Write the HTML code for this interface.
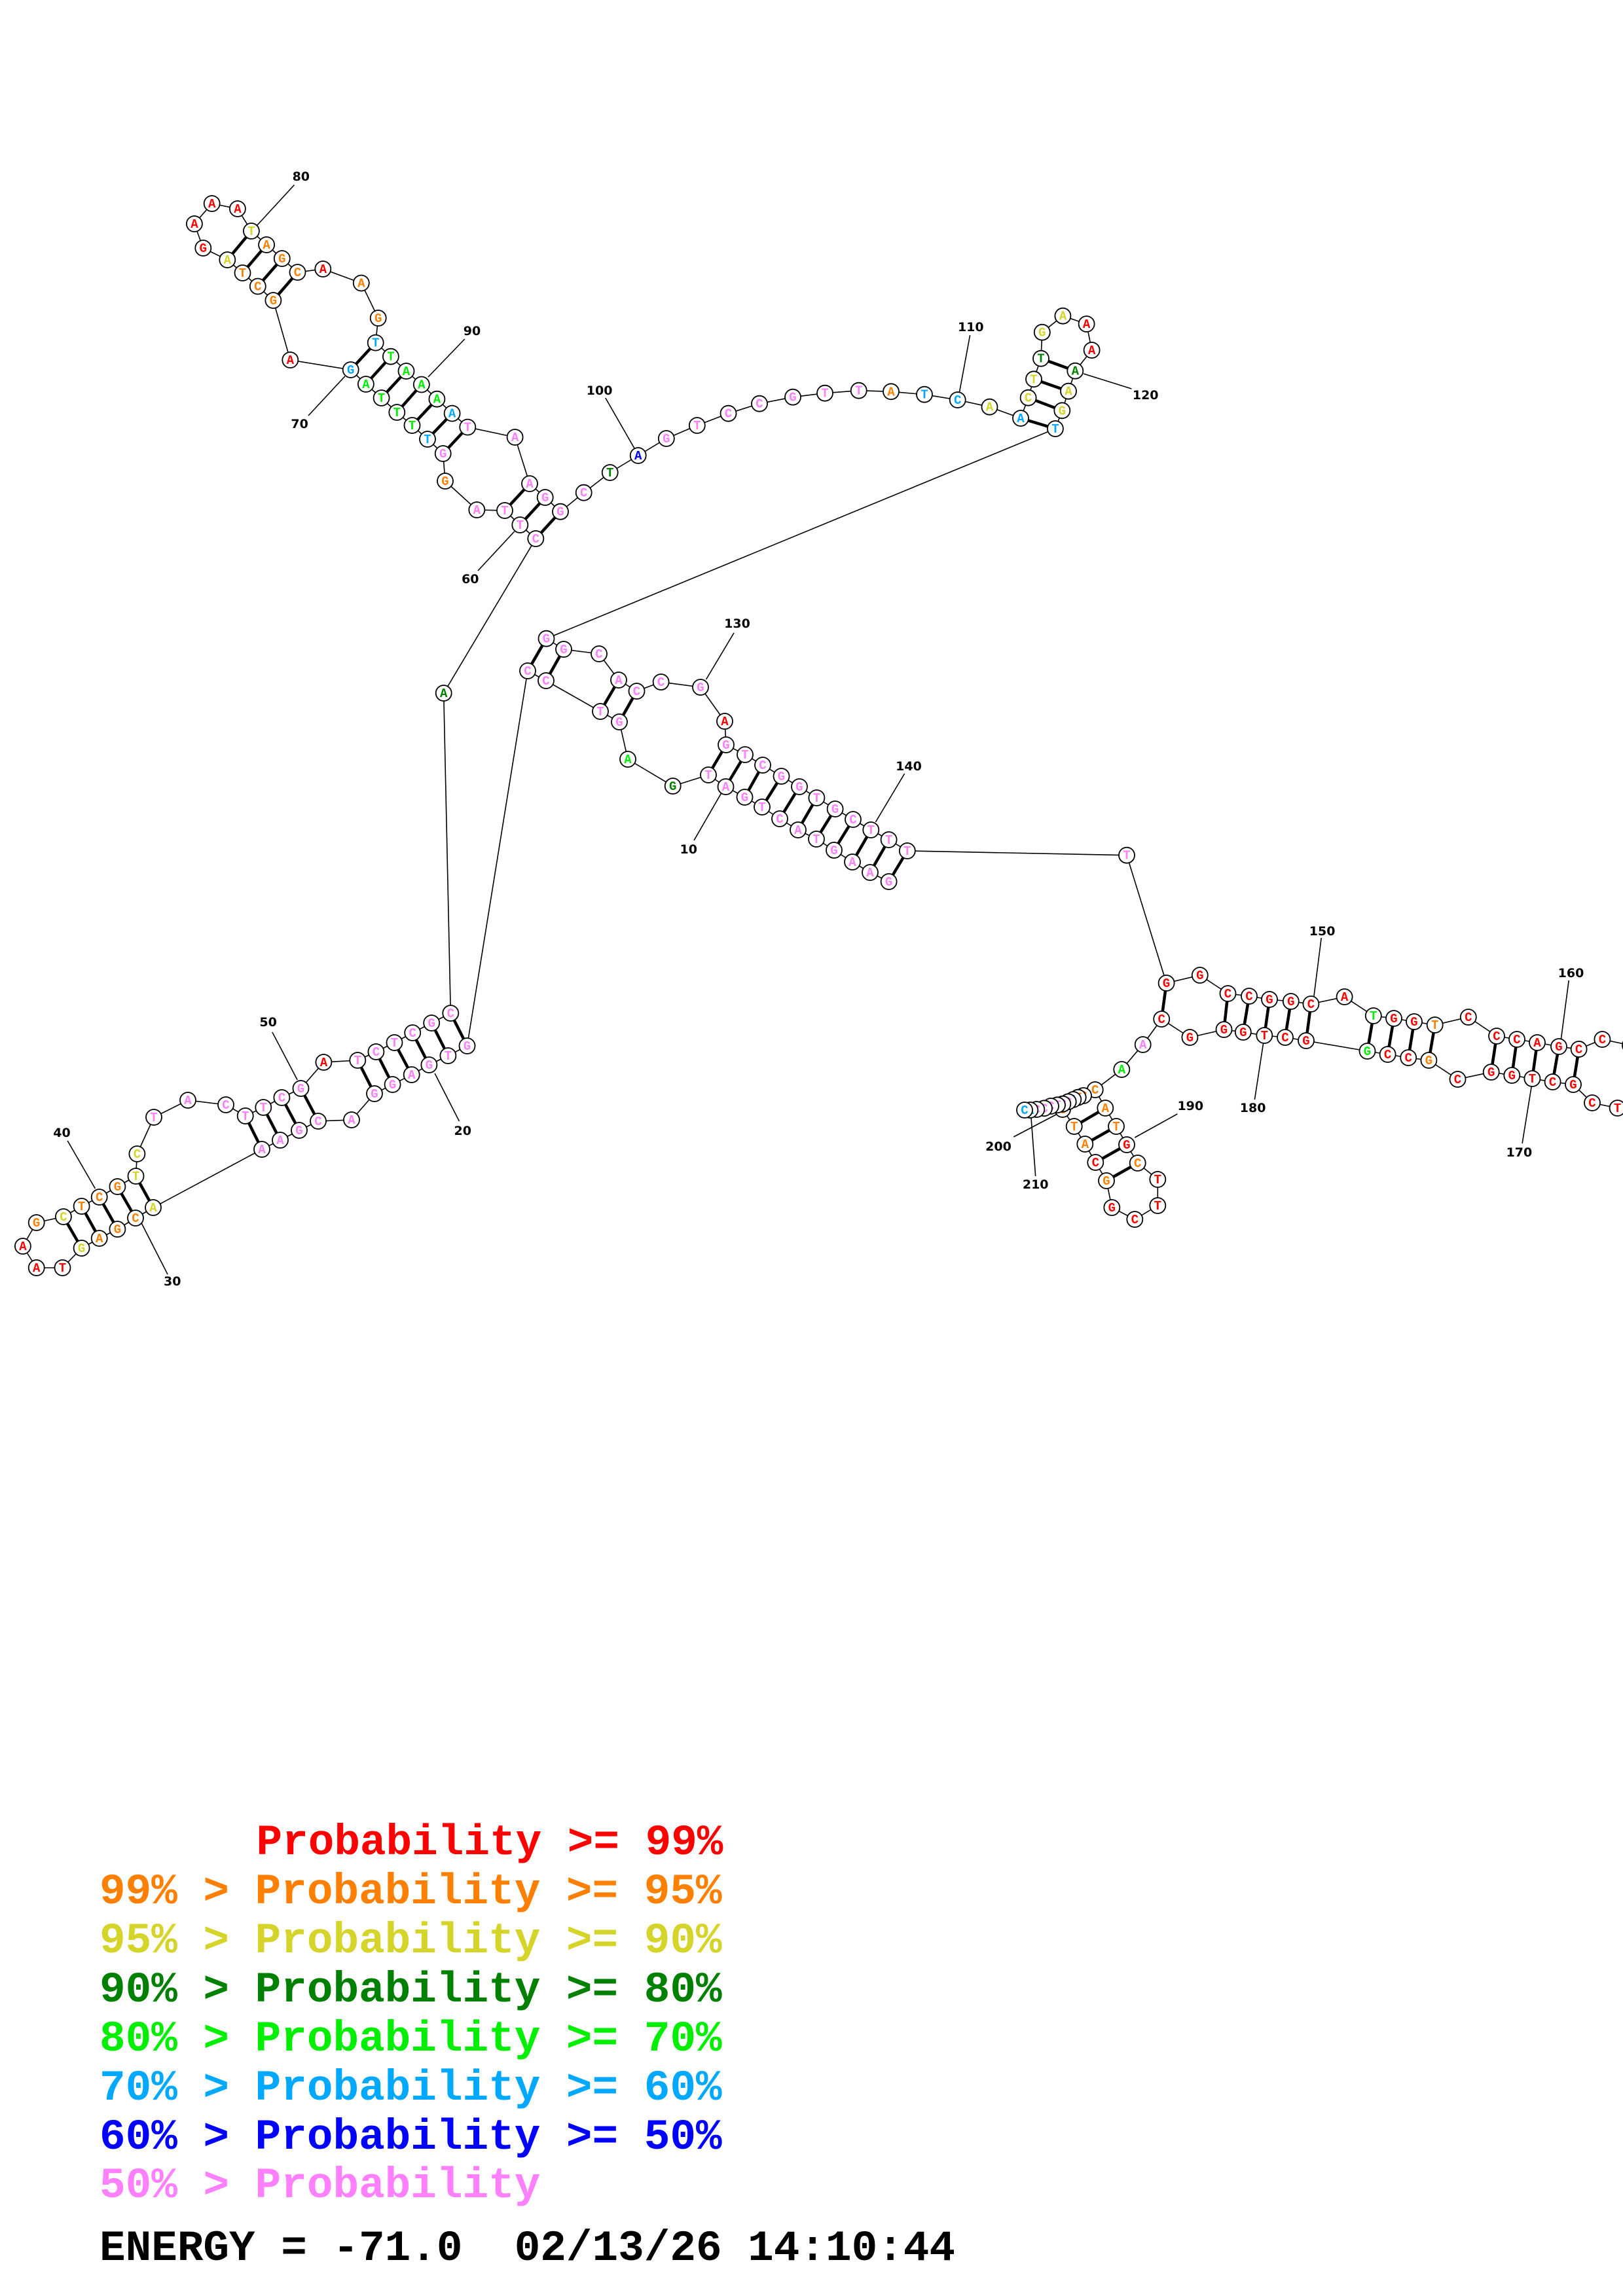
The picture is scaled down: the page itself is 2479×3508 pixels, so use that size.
<!DOCTYPE html>
<html><head><meta charset="utf-8"><style>
html,body{margin:0;padding:0;background:#fff}
svg{display:block}
.bb{stroke:#000;stroke-width:1.6;fill:none}
.pr{stroke:#000;stroke-width:4.5}
circle{fill:#fff;stroke:#000;stroke-width:1.8}
.n text{font-family:"Liberation Mono",monospace;font-weight:bold;font-size:19px;text-anchor:middle}
.lb{font-family:"DejaVu Sans","Liberation Sans",sans-serif;font-weight:bold;font-size:19px;text-anchor:middle;fill:#000}
.tk{stroke:#000;stroke-width:1.6}
.r{fill:#ff0000}.o{fill:#ff8000}.y{fill:#d4d42a}.d{fill:#008000}.g{fill:#00ee00}.b{fill:#00a8ff}.n2{fill:#0000ff}.p{fill:#ff80ff}
.lg{font-family:"Liberation Mono",monospace;font-weight:bold;font-size:66px}
</style></head><body>
<svg width="2479" height="3508" viewBox="0 0 2479 3508" xmlns="http://www.w3.org/2000/svg">
<!-- backbone -->
<polyline class="bb" points="1357.6,1347 1329,1333 1302,1317 1274,1299 1247,1282 1219,1268 1191,1251 1164,1233 1137.5,1218 1108.5,1202 1082,1184 1027.7,1201 959,1160 946,1103 917,1087 834,1040 806,1025 713.5,1598 684.4,1613 655.4,1627 628.7,1642 599.6,1657 572,1671 537,1711 486,1713 457,1727 428,1742 400,1756 234,1845 207,1861 179.4,1878 151.7,1892 124.6,1907 95.5,1937 55.7,1937 34.9,1904 55.7,1868 96.9,1859 124.6,1843 151.7,1829 179.4,1813 207.5,1797 209.4,1763 235,1707 287,1681 345,1688 374.7,1705 402.3,1692 430.4,1677 459.5,1663 494.4,1623 546.3,1620 574.4,1607 602.5,1593 630.2,1578 659.2,1563 688.3,1548 677.7,1059 818.3,823 794.3,802 771,780 728.3,779 680,735 676.7,693 653,671 629.5,650 606.3,630 582.6,608 558.9,587 535.7,565 443.3,550 417.4,459 393.8,437.5 370.5,417 347.3,397 310.3,379 296.9,342 323.7,311 362.9,319 383.9,353 407.1,374 430.8,395 454.5,416 493.3,411 551.8,432.5 577.7,486 573.7,523.6 596.9,544.7 620.5,567 643.8,587.5 667.4,609.7 690.6,631.6 714.3,652.6 786.6,668 809,739 832.7,760 856,781.7 891.7,752.7 931.7,722 974.7,696 1017.8,670 1064.8,650 1112.5,631.7 1160,616.7 1211,606.7 1260,600.7 1311.7,596.7 1361,598.3 1412,602.7 1462.7,611 1511.5,621.7 1559,639 1570.6,607.7 1579,579.3 1590,547.7 1591.8,507.7 1623.4,482.7 1659.6,495 1667.6,535 1642.3,566.7 1632,597.7 1622.3,627.3 1611.9,655 834.5,975.7 861,992 915,999 945,1039 972.5,1056 1009.6,1042 1070,1050 1107,1102 1109,1138 1138,1153 1165,1169 1193.5,1186 1221,1202 1247.4,1219 1275.6,1236 1303,1252 1330.3,1268 1357.6,1283 1385.8,1300 1721,1306.7 1781.6,1502 1832.8,1490 1875.5,1518 1908,1522 1939,1527 1971.8,1530 2002.4,1534 2053.6,1523 2097.8,1552 2129,1556 2160,1561 2191.7,1566 2242.8,1554 2286,1583 2317,1588 2348,1593 2381,1599 2411.6,1603 2447.4,1588 2490,1597 2525,1630 2512,1690 2470.6,1693 2432,1685 2403,1657 2371.6,1653 2340.4,1648 2309.3,1643 2277.7,1638 2226.5,1649 2182.4,1620 2151.2,1616 2119.6,1611 2088.5,1606 1995,1590 1963,1585 1931.3,1582 1898.8,1577 1869.5,1573 1817.4,1585 1774.2,1557 1745.7,1596 1713.3,1634 1672.7,1665 1688.3,1693 1705,1721 1721,1749 1737.7,1777 1768.3,1802 1768.3,1842 1733.3,1863 1698.3,1845 1690,1804 1673.3,1776 1657.3,1748 1640.7,1721 1623,1695 1655,1674 1646.7,1676.7 1639.3,1680 1631.7,1683.3 1623.3,1686.7 1615,1688.3 1605,1690 1595,1693.3 1583.3,1695 1573.3,1696 1565,1696"/>
<!-- pairs -->
<g class="pr">
<line x1="1357.6" y1="1347" x2="1385.8" y2="1300"/><line x1="1329" y1="1333" x2="1357.6" y2="1283"/><line x1="1302" y1="1317" x2="1330.3" y2="1268"/><line x1="1274" y1="1299" x2="1303" y2="1252"/><line x1="1247" y1="1282" x2="1275.6" y2="1236"/><line x1="1219" y1="1268" x2="1247.4" y2="1219"/><line x1="1191" y1="1251" x2="1221" y2="1202"/><line x1="1164" y1="1233" x2="1193.5" y2="1186"/><line x1="1137.5" y1="1218" x2="1165" y2="1169"/><line x1="1108.5" y1="1202" x2="1138" y2="1153"/><line x1="1082" y1="1184" x2="1109" y2="1138"/>
<line x1="946" y1="1103" x2="972.5" y2="1056"/><line x1="917" y1="1087" x2="945" y2="1039"/><line x1="834" y1="1040" x2="861" y2="992"/><line x1="806" y1="1025" x2="834.5" y2="975.7"/>
<line x1="713.5" y1="1598" x2="688.3" y2="1548"/><line x1="684.4" y1="1613" x2="659.2" y2="1563"/><line x1="655.4" y1="1627" x2="630.2" y2="1578"/><line x1="628.7" y1="1642" x2="602.5" y2="1593"/><line x1="599.6" y1="1657" x2="574.4" y2="1607"/><line x1="572" y1="1671" x2="546.3" y2="1620"/>
<line x1="486" y1="1713" x2="459.5" y2="1663"/><line x1="457" y1="1727" x2="430.4" y2="1677"/><line x1="428" y1="1742" x2="402.3" y2="1692"/><line x1="400" y1="1756" x2="374.7" y2="1705"/>
<line x1="234" y1="1845" x2="207.5" y2="1797"/><line x1="207" y1="1861" x2="179.4" y2="1813"/><line x1="179.4" y1="1878" x2="151.7" y2="1829"/><line x1="151.7" y1="1892" x2="124.6" y2="1843"/><line x1="124.6" y1="1907" x2="96.9" y2="1859"/>
<line x1="818.3" y1="823" x2="856" y2="781.7"/><line x1="794.3" y1="802" x2="832.7" y2="760"/><line x1="771" y1="780" x2="809" y2="739"/>
<line x1="676.7" y1="693" x2="714.3" y2="652.6"/><line x1="653" y1="671" x2="690.6" y2="631.6"/><line x1="629.5" y1="650" x2="667.4" y2="609.7"/><line x1="606.3" y1="630" x2="643.8" y2="587.5"/><line x1="582.6" y1="608" x2="620.5" y2="567"/><line x1="558.9" y1="587" x2="596.9" y2="544.7"/><line x1="535.7" y1="565" x2="573.7" y2="523.6"/>
<line x1="417.4" y1="459" x2="454.5" y2="416"/><line x1="393.8" y1="437.5" x2="430.8" y2="395"/><line x1="370.5" y1="417" x2="407.1" y2="374"/><line x1="347.3" y1="397" x2="383.9" y2="353"/>
<line x1="1559" y1="639" x2="1611.9" y2="655"/><line x1="1570.6" y1="607.7" x2="1622.3" y2="627.3"/><line x1="1579" y1="579.3" x2="1632" y2="597.7"/><line x1="1590" y1="547.7" x2="1642.3" y2="566.7"/>
<line x1="1781.6" y1="1502" x2="1774.2" y2="1557"/><line x1="1875.5" y1="1518" x2="1869.5" y2="1573"/><line x1="1908" y1="1522" x2="1898.8" y2="1577"/><line x1="1939" y1="1527" x2="1931.3" y2="1582"/><line x1="1971.8" y1="1530" x2="1963" y2="1585"/><line x1="2002.4" y1="1534" x2="1995" y2="1590"/>
<line x1="2097.8" y1="1552" x2="2088.5" y2="1606"/><line x1="2129" y1="1556" x2="2119.6" y2="1611"/><line x1="2160" y1="1561" x2="2151.2" y2="1616"/><line x1="2191.7" y1="1566" x2="2182.4" y2="1620"/>
<line x1="2286" y1="1583" x2="2277.7" y2="1638"/><line x1="2317" y1="1588" x2="2309.3" y2="1643"/><line x1="2348" y1="1593" x2="2340.4" y2="1648"/><line x1="2381" y1="1599" x2="2371.6" y2="1653"/><line x1="2411.6" y1="1603" x2="2403" y2="1657"/>
<line x1="1688.3" y1="1693" x2="1640.7" y2="1721"/><line x1="1705" y1="1721" x2="1657.3" y2="1748"/><line x1="1721" y1="1749" x2="1673.3" y2="1776"/><line x1="1737.7" y1="1777" x2="1690" y2="1804"/>
</g>
<!-- tick lines -->
<g class="tk">
<line x1="1060" y1="1284" x2="1101.8" y2="1211.7"/><line x1="701.4" y1="1713" x2="664.1" y2="1640"/><line x1="256" y1="1947" x2="215.7" y2="1868"/><line x1="103.2" y1="1743" x2="145.4" y2="1816"/><line x1="415.9" y1="1577" x2="454.2" y2="1650"/><line x1="730" y1="872" x2="785.7" y2="812"/><line x1="471" y1="635" x2="526.8" y2="575"/><line x1="449.5" y1="282.5" x2="392.9" y2="344"/><line x1="709.8" y1="518" x2="654" y2="576"/><line x1="924.8" y1="608" x2="969" y2="685"/><line x1="1481.6" y1="512" x2="1465.5" y2="599"/><line x1="1728.4" y1="594" x2="1655" y2="571"/><line x1="1121" y1="967" x2="1078.6" y2="1038"/><line x1="1381.6" y1="1182" x2="1337.4" y2="1256"/><line x1="2018.2" y1="1433" x2="2005.7" y2="1532"/><line x1="2396.2" y1="1498" x2="2383.7" y2="1593"/><line x1="2325.1" y1="1747" x2="2339.5" y2="1658"/><line x1="1916.4" y1="1680" x2="1929.9" y2="1592"/><line x1="1798.3" y1="1702" x2="1733.3" y2="1738"/><line x1="1548.3" y1="1737" x2="1613" y2="1703"/><line x1="1581.7" y1="1797" x2="1575" y2="1708"/>
</g>
<g class="lb" dominant-baseline="central">
<text x="1051.7" y="1298">10</text><text x="706.7" y="1728">20</text><text x="263.2" y="1958">30</text><text x="94.5" y="1731">40</text><text x="409.6" y="1562">50</text><text x="718.3" y="885">60</text><text x="457.6" y="648">70</text><text x="459.8" y="270">80</text><text x="721" y="506">90</text><text x="915.6" y="597">100</text><text x="1482.8" y="500">110</text><text x="1749.7" y="604">120</text><text x="1126" y="953">130</text><text x="1388" y="1171">140</text><text x="2019.6" y="1423">150</text><text x="2399.5" y="1487">160</text><text x="2320.4" y="1761">170</text><text x="1913.6" y="1693">180</text><text x="1818.3" y="1690">190</text><text x="1525" y="1752">200</text><text x="1581.7" y="1810">210</text>
</g>
<!-- nodes -->
<g class="n">
<circle cx="1357.6" cy="1347" r="12"/><text x="1357.6" y="1353" class="p">G</text>
<circle cx="1329" cy="1333" r="12"/><text x="1329" y="1339" class="p">A</text>
<circle cx="1302" cy="1317" r="12"/><text x="1302" y="1323" class="p">A</text>
<circle cx="1274" cy="1299" r="12"/><text x="1274" y="1305" class="p">G</text>
<circle cx="1247" cy="1282" r="12"/><text x="1247" y="1288" class="p">T</text>
<circle cx="1219" cy="1268" r="12"/><text x="1219" y="1274" class="p">A</text>
<circle cx="1191" cy="1251" r="12"/><text x="1191" y="1257" class="p">C</text>
<circle cx="1164" cy="1233" r="12"/><text x="1164" y="1239" class="p">T</text>
<circle cx="1137.5" cy="1218" r="12"/><text x="1137.5" y="1224" class="p">G</text>
<circle cx="1108.5" cy="1202" r="12"/><text x="1108.5" y="1208" class="p">A</text>
<circle cx="1082" cy="1184" r="12"/><text x="1082" y="1190" class="p">T</text>
<circle cx="1027.7" cy="1201" r="12"/><text x="1027.7" y="1207" class="d">G</text>
<circle cx="959" cy="1160" r="12"/><text x="959" y="1166" class="g">A</text>
<circle cx="946" cy="1103" r="12"/><text x="946" y="1109" class="p">G</text>
<circle cx="917" cy="1087" r="12"/><text x="917" y="1093" class="p">T</text>
<circle cx="834" cy="1040" r="12"/><text x="834" y="1046" class="p">C</text>
<circle cx="806" cy="1025" r="12"/><text x="806" y="1031" class="p">C</text>
<circle cx="713.5" cy="1598" r="12"/><text x="713.5" y="1604" class="p">G</text>
<circle cx="684.4" cy="1613" r="12"/><text x="684.4" y="1619" class="p">T</text>
<circle cx="655.4" cy="1627" r="12"/><text x="655.4" y="1633" class="p">G</text>
<circle cx="628.7" cy="1642" r="12"/><text x="628.7" y="1648" class="p">A</text>
<circle cx="599.6" cy="1657" r="12"/><text x="599.6" y="1663" class="p">G</text>
<circle cx="572" cy="1671" r="12"/><text x="572" y="1677" class="p">G</text>
<circle cx="537" cy="1711" r="12"/><text x="537" y="1717" class="p">A</text>
<circle cx="486" cy="1713" r="12"/><text x="486" y="1719" class="p">C</text>
<circle cx="457" cy="1727" r="12"/><text x="457" y="1733" class="p">G</text>
<circle cx="428" cy="1742" r="12"/><text x="428" y="1748" class="p">A</text>
<circle cx="400" cy="1756" r="12"/><text x="400" y="1762" class="p">A</text>
<circle cx="234" cy="1845" r="12"/><text x="234" y="1851" class="y">A</text>
<circle cx="207" cy="1861" r="12"/><text x="207" y="1867" class="o">C</text>
<circle cx="179.4" cy="1878" r="12"/><text x="179.4" y="1884" class="o">G</text>
<circle cx="151.7" cy="1892" r="12"/><text x="151.7" y="1898" class="o">A</text>
<circle cx="124.6" cy="1907" r="12"/><text x="124.6" y="1913" class="y">G</text>
<circle cx="95.5" cy="1937" r="12"/><text x="95.5" y="1943" class="r">T</text>
<circle cx="55.7" cy="1937" r="12"/><text x="55.7" y="1943" class="r">A</text>
<circle cx="34.9" cy="1904" r="12"/><text x="34.9" y="1910" class="r">A</text>
<circle cx="55.7" cy="1868" r="12"/><text x="55.7" y="1874" class="o">G</text>
<circle cx="96.9" cy="1859" r="12"/><text x="96.9" y="1865" class="y">C</text>
<circle cx="124.6" cy="1843" r="12"/><text x="124.6" y="1849" class="o">T</text>
<circle cx="151.7" cy="1829" r="12"/><text x="151.7" y="1835" class="o">C</text>
<circle cx="179.4" cy="1813" r="12"/><text x="179.4" y="1819" class="o">G</text>
<circle cx="207.5" cy="1797" r="12"/><text x="207.5" y="1803" class="y">T</text>
<circle cx="209.4" cy="1763" r="12"/><text x="209.4" y="1769" class="y">C</text>
<circle cx="235" cy="1707" r="12"/><text x="235" y="1713" class="p">T</text>
<circle cx="287" cy="1681" r="12"/><text x="287" y="1687" class="p">A</text>
<circle cx="345" cy="1688" r="12"/><text x="345" y="1694" class="p">C</text>
<circle cx="374.7" cy="1705" r="12"/><text x="374.7" y="1711" class="p">T</text>
<circle cx="402.3" cy="1692" r="12"/><text x="402.3" y="1698" class="p">T</text>
<circle cx="430.4" cy="1677" r="12"/><text x="430.4" y="1683" class="p">C</text>
<circle cx="459.5" cy="1663" r="12"/><text x="459.5" y="1669" class="p">G</text>
<circle cx="494.4" cy="1623" r="12"/><text x="494.4" y="1629" class="r">A</text>
<circle cx="546.3" cy="1620" r="12"/><text x="546.3" y="1626" class="p">T</text>
<circle cx="574.4" cy="1607" r="12"/><text x="574.4" y="1613" class="p">C</text>
<circle cx="602.5" cy="1593" r="12"/><text x="602.5" y="1599" class="p">T</text>
<circle cx="630.2" cy="1578" r="12"/><text x="630.2" y="1584" class="p">C</text>
<circle cx="659.2" cy="1563" r="12"/><text x="659.2" y="1569" class="p">G</text>
<circle cx="688.3" cy="1548" r="12"/><text x="688.3" y="1554" class="p">C</text>
<circle cx="677.7" cy="1059" r="12"/><text x="677.7" y="1065" class="d">A</text>
<circle cx="818.3" cy="823" r="12"/><text x="818.3" y="829" class="p">C</text>
<circle cx="794.3" cy="802" r="12"/><text x="794.3" y="808" class="p">T</text>
<circle cx="771" cy="780" r="12"/><text x="771" y="786" class="p">T</text>
<circle cx="728.3" cy="779" r="12"/><text x="728.3" y="785" class="p">A</text>
<circle cx="680" cy="735" r="12"/><text x="680" y="741" class="o">G</text>
<circle cx="676.7" cy="693" r="12"/><text x="676.7" y="699" class="p">G</text>
<circle cx="653" cy="671" r="12"/><text x="653" y="677" class="b">T</text>
<circle cx="629.5" cy="650" r="12"/><text x="629.5" y="656" class="g">T</text>
<circle cx="606.3" cy="630" r="12"/><text x="606.3" y="636" class="g">T</text>
<circle cx="582.6" cy="608" r="12"/><text x="582.6" y="614" class="g">T</text>
<circle cx="558.9" cy="587" r="12"/><text x="558.9" y="593" class="g">A</text>
<circle cx="535.7" cy="565" r="12"/><text x="535.7" y="571" class="b">G</text>
<circle cx="443.3" cy="550" r="12"/><text x="443.3" y="556" class="r">A</text>
<circle cx="417.4" cy="459" r="12"/><text x="417.4" y="465" class="o">G</text>
<circle cx="393.8" cy="437.5" r="12"/><text x="393.8" y="443.5" class="o">C</text>
<circle cx="370.5" cy="417" r="12"/><text x="370.5" y="423" class="o">T</text>
<circle cx="347.3" cy="397" r="12"/><text x="347.3" y="403" class="y">A</text>
<circle cx="310.3" cy="379" r="12"/><text x="310.3" y="385" class="r">G</text>
<circle cx="296.9" cy="342" r="12"/><text x="296.9" y="348" class="r">A</text>
<circle cx="323.7" cy="311" r="12"/><text x="323.7" y="317" class="r">A</text>
<circle cx="362.9" cy="319" r="12"/><text x="362.9" y="325" class="r">A</text>
<circle cx="383.9" cy="353" r="12"/><text x="383.9" y="359" class="y">T</text>
<circle cx="407.1" cy="374" r="12"/><text x="407.1" y="380" class="o">A</text>
<circle cx="430.8" cy="395" r="12"/><text x="430.8" y="401" class="o">G</text>
<circle cx="454.5" cy="416" r="12"/><text x="454.5" y="422" class="o">C</text>
<circle cx="493.3" cy="411" r="12"/><text x="493.3" y="417" class="r">A</text>
<circle cx="551.8" cy="432.5" r="12"/><text x="551.8" y="438.5" class="o">A</text>
<circle cx="577.7" cy="486" r="12"/><text x="577.7" y="492" class="o">G</text>
<circle cx="573.7" cy="523.6" r="12"/><text x="573.7" y="529.6" class="b">T</text>
<circle cx="596.9" cy="544.7" r="12"/><text x="596.9" y="550.7" class="g">T</text>
<circle cx="620.5" cy="567" r="12"/><text x="620.5" y="573" class="g">A</text>
<circle cx="643.8" cy="587.5" r="12"/><text x="643.8" y="593.5" class="g">A</text>
<circle cx="667.4" cy="609.7" r="12"/><text x="667.4" y="615.7" class="g">A</text>
<circle cx="690.6" cy="631.6" r="12"/><text x="690.6" y="637.6" class="b">A</text>
<circle cx="714.3" cy="652.6" r="12"/><text x="714.3" y="658.6" class="p">T</text>
<circle cx="786.6" cy="668" r="12"/><text x="786.6" y="674" class="p">A</text>
<circle cx="809" cy="739" r="12"/><text x="809" y="745" class="p">A</text>
<circle cx="832.7" cy="760" r="12"/><text x="832.7" y="766" class="p">G</text>
<circle cx="856" cy="781.7" r="12"/><text x="856" y="787.7" class="p">G</text>
<circle cx="891.7" cy="752.7" r="12"/><text x="891.7" y="758.7" class="p">C</text>
<circle cx="931.7" cy="722" r="12"/><text x="931.7" y="728" class="d">T</text>
<circle cx="974.7" cy="696" r="12"/><text x="974.7" y="702" class="n2">A</text>
<circle cx="1017.8" cy="670" r="12"/><text x="1017.8" y="676" class="p">G</text>
<circle cx="1064.8" cy="650" r="12"/><text x="1064.8" y="656" class="p">T</text>
<circle cx="1112.5" cy="631.7" r="12"/><text x="1112.5" y="637.7" class="p">C</text>
<circle cx="1160" cy="616.7" r="12"/><text x="1160" y="622.7" class="p">C</text>
<circle cx="1211" cy="606.7" r="12"/><text x="1211" y="612.7" class="p">G</text>
<circle cx="1260" cy="600.7" r="12"/><text x="1260" y="606.7" class="p">T</text>
<circle cx="1311.7" cy="596.7" r="12"/><text x="1311.7" y="602.7" class="p">T</text>
<circle cx="1361" cy="598.3" r="12"/><text x="1361" y="604.3" class="o">A</text>
<circle cx="1412" cy="602.7" r="12"/><text x="1412" y="608.7" class="b">T</text>
<circle cx="1462.7" cy="611" r="12"/><text x="1462.7" y="617" class="b">C</text>
<circle cx="1511.5" cy="621.7" r="12"/><text x="1511.5" y="627.7" class="y">A</text>
<circle cx="1559" cy="639" r="12"/><text x="1559" y="645" class="b">A</text>
<circle cx="1570.6" cy="607.7" r="12"/><text x="1570.6" y="613.7" class="y">C</text>
<circle cx="1579" cy="579.3" r="12"/><text x="1579" y="585.3" class="y">T</text>
<circle cx="1590" cy="547.7" r="12"/><text x="1590" y="553.7" class="d">T</text>
<circle cx="1591.8" cy="507.7" r="12"/><text x="1591.8" y="513.7" class="y">G</text>
<circle cx="1623.4" cy="482.7" r="12"/><text x="1623.4" y="488.7" class="y">A</text>
<circle cx="1659.6" cy="495" r="12"/><text x="1659.6" y="501" class="r">A</text>
<circle cx="1667.6" cy="535" r="12"/><text x="1667.6" y="541" class="r">A</text>
<circle cx="1642.3" cy="566.7" r="12"/><text x="1642.3" y="572.7" class="d">A</text>
<circle cx="1632" cy="597.7" r="12"/><text x="1632" y="603.7" class="y">A</text>
<circle cx="1622.3" cy="627.3" r="12"/><text x="1622.3" y="633.3" class="y">G</text>
<circle cx="1611.9" cy="655" r="12"/><text x="1611.9" y="661" class="b">T</text>
<circle cx="834.5" cy="975.7" r="12"/><text x="834.5" y="981.7" class="p">G</text>
<circle cx="861" cy="992" r="12"/><text x="861" y="998" class="p">G</text>
<circle cx="915" cy="999" r="12"/><text x="915" y="1005" class="p">C</text>
<circle cx="945" cy="1039" r="12"/><text x="945" y="1045" class="p">A</text>
<circle cx="972.5" cy="1056" r="12"/><text x="972.5" y="1062" class="p">C</text>
<circle cx="1009.6" cy="1042" r="12"/><text x="1009.6" y="1048" class="p">C</text>
<circle cx="1070" cy="1050" r="12"/><text x="1070" y="1056" class="p">G</text>
<circle cx="1107" cy="1102" r="12"/><text x="1107" y="1108" class="r">A</text>
<circle cx="1109" cy="1138" r="12"/><text x="1109" y="1144" class="p">G</text>
<circle cx="1138" cy="1153" r="12"/><text x="1138" y="1159" class="p">T</text>
<circle cx="1165" cy="1169" r="12"/><text x="1165" y="1175" class="p">C</text>
<circle cx="1193.5" cy="1186" r="12"/><text x="1193.5" y="1192" class="p">G</text>
<circle cx="1221" cy="1202" r="12"/><text x="1221" y="1208" class="p">G</text>
<circle cx="1247.4" cy="1219" r="12"/><text x="1247.4" y="1225" class="p">T</text>
<circle cx="1275.6" cy="1236" r="12"/><text x="1275.6" y="1242" class="p">G</text>
<circle cx="1303" cy="1252" r="12"/><text x="1303" y="1258" class="p">C</text>
<circle cx="1330.3" cy="1268" r="12"/><text x="1330.3" y="1274" class="p">T</text>
<circle cx="1357.6" cy="1283" r="12"/><text x="1357.6" y="1289" class="p">T</text>
<circle cx="1385.8" cy="1300" r="12"/><text x="1385.8" y="1306" class="p">T</text>
<circle cx="1721" cy="1306.7" r="12"/><text x="1721" y="1312.7" class="p">T</text>
<circle cx="1781.6" cy="1502" r="12"/><text x="1781.6" y="1508" class="r">G</text>
<circle cx="1832.8" cy="1490" r="12"/><text x="1832.8" y="1496" class="r">G</text>
<circle cx="1875.5" cy="1518" r="12"/><text x="1875.5" y="1524" class="r">C</text>
<circle cx="1908" cy="1522" r="12"/><text x="1908" y="1528" class="r">C</text>
<circle cx="1939" cy="1527" r="12"/><text x="1939" y="1533" class="r">G</text>
<circle cx="1971.8" cy="1530" r="12"/><text x="1971.8" y="1536" class="r">G</text>
<circle cx="2002.4" cy="1534" r="12"/><text x="2002.4" y="1540" class="r">C</text>
<circle cx="2053.6" cy="1523" r="12"/><text x="2053.6" y="1529" class="r">A</text>
<circle cx="2097.8" cy="1552" r="12"/><text x="2097.8" y="1558" class="g">T</text>
<circle cx="2129" cy="1556" r="12"/><text x="2129" y="1562" class="r">G</text>
<circle cx="2160" cy="1561" r="12"/><text x="2160" y="1567" class="r">G</text>
<circle cx="2191.7" cy="1566" r="12"/><text x="2191.7" y="1572" class="o">T</text>
<circle cx="2242.8" cy="1554" r="12"/><text x="2242.8" y="1560" class="r">C</text>
<circle cx="2286" cy="1583" r="12"/><text x="2286" y="1589" class="r">C</text>
<circle cx="2317" cy="1588" r="12"/><text x="2317" y="1594" class="r">C</text>
<circle cx="2348" cy="1593" r="12"/><text x="2348" y="1599" class="r">A</text>
<circle cx="2381" cy="1599" r="12"/><text x="2381" y="1605" class="r">G</text>
<circle cx="2411.6" cy="1603" r="12"/><text x="2411.6" y="1609" class="r">C</text>
<circle cx="2447.4" cy="1588" r="12"/><text x="2447.4" y="1594" class="r">C</text>
<circle cx="2490" cy="1597" r="12"/><text x="2490" y="1603" class="r">C</text>
<circle cx="2470.6" cy="1693" r="12"/><text x="2470.6" y="1699" class="r">T</text>
<circle cx="2432" cy="1685" r="12"/><text x="2432" y="1691" class="r">C</text>
<circle cx="2403" cy="1657" r="12"/><text x="2403" y="1663" class="r">G</text>
<circle cx="2371.6" cy="1653" r="12"/><text x="2371.6" y="1659" class="r">C</text>
<circle cx="2340.4" cy="1648" r="12"/><text x="2340.4" y="1654" class="r">T</text>
<circle cx="2309.3" cy="1643" r="12"/><text x="2309.3" y="1649" class="r">G</text>
<circle cx="2277.7" cy="1638" r="12"/><text x="2277.7" y="1644" class="r">G</text>
<circle cx="2226.5" cy="1649" r="12"/><text x="2226.5" y="1655" class="r">C</text>
<circle cx="2182.4" cy="1620" r="12"/><text x="2182.4" y="1626" class="o">G</text>
<circle cx="2151.2" cy="1616" r="12"/><text x="2151.2" y="1622" class="r">C</text>
<circle cx="2119.6" cy="1611" r="12"/><text x="2119.6" y="1617" class="r">C</text>
<circle cx="2088.5" cy="1606" r="12"/><text x="2088.5" y="1612" class="g">G</text>
<circle cx="1995" cy="1590" r="12"/><text x="1995" y="1596" class="r">G</text>
<circle cx="1963" cy="1585" r="12"/><text x="1963" y="1591" class="r">C</text>
<circle cx="1931.3" cy="1582" r="12"/><text x="1931.3" y="1588" class="r">T</text>
<circle cx="1898.8" cy="1577" r="12"/><text x="1898.8" y="1583" class="r">G</text>
<circle cx="1869.5" cy="1573" r="12"/><text x="1869.5" y="1579" class="r">G</text>
<circle cx="1817.4" cy="1585" r="12"/><text x="1817.4" y="1591" class="r">G</text>
<circle cx="1774.2" cy="1557" r="12"/><text x="1774.2" y="1563" class="r">C</text>
<circle cx="1745.7" cy="1596" r="12"/><text x="1745.7" y="1602" class="p">A</text>
<circle cx="1713.3" cy="1634" r="12"/><text x="1713.3" y="1640" class="g">A</text>
<circle cx="1688.3" cy="1693" r="12"/><text x="1688.3" y="1699" class="o">A</text>
<circle cx="1705" cy="1721" r="12"/><text x="1705" y="1727" class="o">T</text>
<circle cx="1721" cy="1749" r="12"/><text x="1721" y="1755" class="r">G</text>
<circle cx="1737.7" cy="1777" r="12"/><text x="1737.7" y="1783" class="o">C</text>
<circle cx="1768.3" cy="1802" r="12"/><text x="1768.3" y="1808" class="r">T</text>
<circle cx="1768.3" cy="1842" r="12"/><text x="1768.3" y="1848" class="r">T</text>
<circle cx="1733.3" cy="1863" r="12"/><text x="1733.3" y="1869" class="r">C</text>
<circle cx="1698.3" cy="1845" r="12"/><text x="1698.3" y="1851" class="r">G</text>
<circle cx="1690" cy="1804" r="12"/><text x="1690" y="1810" class="o">G</text>
<circle cx="1673.3" cy="1776" r="12"/><text x="1673.3" y="1782" class="r">C</text>
<circle cx="1657.3" cy="1748" r="12"/><text x="1657.3" y="1754" class="o">A</text>
<circle cx="1640.7" cy="1721" r="12"/><text x="1640.7" y="1727" class="o">T</text>
<circle cx="1623" cy="1695" r="12"/><text x="1623" y="1701" class="o">G</text>
<circle cx="1672.7" cy="1665" r="12"/><text x="1672.7" y="1671" class="o">C</text>
<circle cx="1655" cy="1674" r="12"/><text x="1655" y="1680" class="o">C</text>
<circle cx="1646.7" cy="1676.7" r="12"/><text x="1646.7" y="1682.7" class="o">T</text>
<circle cx="1639.3" cy="1680" r="12"/><text x="1639.3" y="1686" class="b">A</text>
<circle cx="1631.7" cy="1683.3" r="12"/><text x="1631.7" y="1689.3" class="p">C</text>
<circle cx="1623.3" cy="1686.7" r="12"/><text x="1623.3" y="1692.7" class="p">C</text>
<circle cx="1615" cy="1688.3" r="12"/><text x="1615" y="1694.3" class="p">T</text>
<circle cx="1605" cy="1690" r="12"/><text x="1605" y="1696" class="p">C</text>
<circle cx="1595" cy="1693.3" r="12"/><text x="1595" y="1699.3" class="p">C</text>
<circle cx="1583.3" cy="1695" r="12"/><text x="1583.3" y="1701" class="p">C</text>
<circle cx="1573.3" cy="1696" r="12"/><text x="1573.3" y="1702" class="b">A</text>
<circle cx="1565" cy="1696" r="12"/><text x="1565" y="1702" class="b">C</text>
</g>
<!-- legend -->
<g class="lg">
<text x="391.5" y="2833" class="r">Probability &gt;= 99%</text>
<text x="152" y="2908" class="o">99% &gt; Probability &gt;= 95%</text>
<text x="152" y="2983" class="y">95% &gt; Probability &gt;= 90%</text>
<text x="152" y="3058" class="d">90% &gt; Probability &gt;= 80%</text>
<text x="152" y="3133" class="g">80% &gt; Probability &gt;= 70%</text>
<text x="152" y="3208" class="b">70% &gt; Probability &gt;= 60%</text>
<text x="152" y="3283" class="n2">60% &gt; Probability &gt;= 50%</text>
<text x="152" y="3357" class="p">50% &gt; Probability</text>
<text x="152" y="3453" fill="#000" xml:space="preserve">ENERGY = -71.0  02/13/26 14:10:44</text>
</g>
</svg>
</body></html>
